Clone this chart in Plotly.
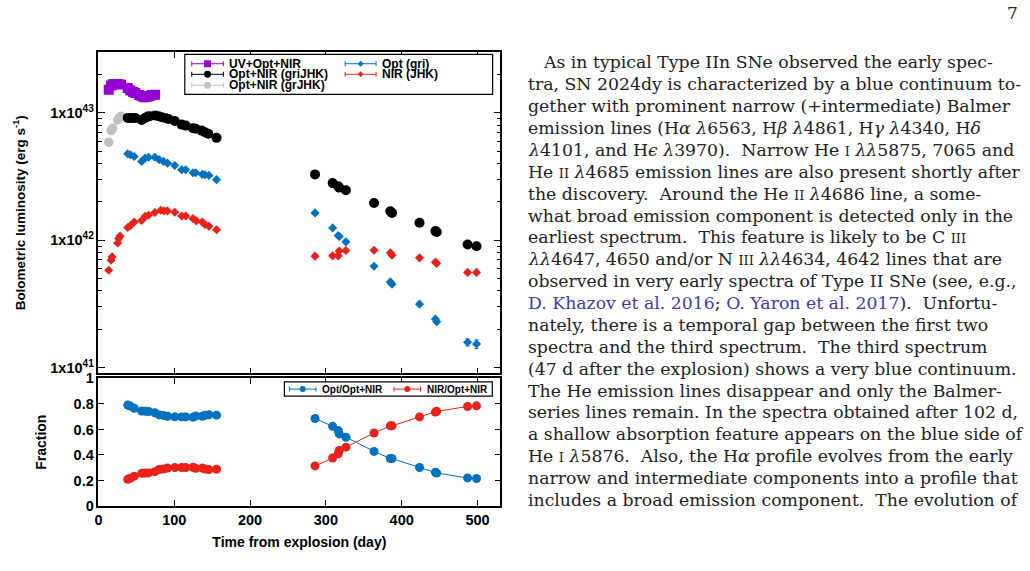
import plotly.graph_objects as go

# ---------------- data ----------------
# UV+Opt+NIR
t_uv = [13.6, 16.7, 18.9, 22.0, 25.4, 29.8, 38.6, 42.0, 45.9, 48.6, 53.8, 57.0, 60.4, 64.8, 67.8, 70.5, 74.8]
L_uv = [1.52e43, 1.64e43, 1.68e43, 1.69e43, 1.69e43, 1.67e43, 1.57e43, 1.50e43, 1.46e43, 1.43e43,
        1.38e43, 1.35e43, 1.33e43, 1.34e43, 1.36e43, 1.38e43, 1.39e43]

# Opt+NIR (grJHK)
t_gr = [13.6, 16.7, 18.9, 25.4, 27.6, 29.8]
L_gr = [5.89e42, 7.26e42, 7.57e42, 8.81e42, 9.13e42, 9.40e42]

# Opt+NIR (griJHK)
t_all = [38.6, 42.0, 45.9, 48.6, 57.0, 61.7, 64.8, 67.8, 74.8, 79.3, 83.6, 88.8, 92.4, 100.7, 109.8,
         115.1, 124.7, 128.2, 136.1, 140.5, 144.9, 155.8,
         285.7, 308.9, 316.3, 317.6, 326.4, 363.5, 385.0, 387.2, 423.5, 444.5, 446.2, 486.9, 498.7]
L_all = [9.14e42, 9.14e42, 9.14e42, 9.14e42, 8.81e42, 9.14e42, 9.36e42, 9.40e42, 9.53e42, 9.40e42,
         9.24e42, 9.08e42, 8.97e42, 8.65e42, 8.09e42, 7.95e42, 7.57e42, 7.50e42, 7.26e42, 7.05e42,
         6.85e42, 6.37e42,
         3.29e42, 2.81e42, 2.65e42, 2.59e42, 2.47e42, 1.96e42, 1.69e42, 1.64e42, 1.37e42, 1.18e42,
         1.16e42, 9.25e41, 8.97e41]

# Opt (gri)
t_opt = [38.6, 42.0, 47.2, 57.0, 61.7, 66.1, 74.4, 80.1, 85.8, 91.1, 100.7, 109.8, 115.1, 124.7,
         128.2, 137.0, 140.5, 145.7, 155.8,
         285.7, 308.9, 316.3, 317.6, 326.4, 363.5, 385.0, 387.2, 423.5, 444.5, 446.2, 486.9, 498.7]
L_opt = [4.78e42, 4.69e42, 4.55e42, 4.16e42, 4.42e42, 4.49e42, 4.49e42, 4.30e42, 4.16e42, 4.03e42,
         3.86e42, 3.58e42, 3.58e42, 3.39e42, 3.39e42, 3.29e42, 3.27e42, 3.23e42, 2.99e42,
         1.64e42, 1.25e42, 1.09e42, 1.07e42, 9.71e41, 6.25e41, 4.71e41, 4.52e41, 3.15e41, 2.41e41,
         2.29e41, 1.58e41, 1.53e41]
E_opt = [0] * 19 + [0.02e42, 0.02e42, 0.02e42, 0.02e42, 0.02e42, 0.1e41, 0.1e41, 0.1e41, 0.08e41,
                    0.08e41, 0.08e41, 0.1e41, 0.12e41]

# NIR (JHK)
t_nir = [13.6, 16.7, 18.0, 25.4, 26.8, 28.5, 38.6, 42.0, 47.2, 57.0, 61.7, 66.1, 74.4, 82.3, 86.6,
         91.1, 100.7, 109.8, 115.1, 124.7, 129.1, 137.0, 140.5, 145.7, 155.8,
         285.7, 308.9, 316.3, 317.6, 326.4, 363.5, 385.0, 387.2, 423.5, 444.5, 446.2, 486.9, 498.7]
L_nir = [5.82e41, 6.97e41, 7.40e41, 9.53e41, 1.03e42, 1.08e42, 1.26e42, 1.30e42, 1.39e42, 1.43e42,
         1.54e42, 1.57e42, 1.65e42, 1.72e42, 1.70e42, 1.70e42, 1.66e42, 1.55e42, 1.55e42, 1.48e42,
         1.42e42, 1.39e42, 1.33e42, 1.29e42, 1.21e42,
         7.50e41, 7.54e41, 7.54e41, 8.24e41, 8.30e41, 8.35e41, 7.96e41, 7.64e41, 7.27e41, 6.73e41,
         6.57e41, 5.59e41, 5.59e41]

# Fractions (bottom panel)
t_frac = [38.6, 42.0, 47.2, 57.0, 61.7, 66.1, 74.4, 80.1, 85.8, 91.1, 100.7, 109.8, 115.1, 124.7,
          128.2, 137.0, 140.5, 145.7, 155.8,
          285.7, 308.9, 316.3, 317.6, 326.4, 363.5, 385.0, 387.2, 423.5, 444.5, 446.2, 486.9, 498.7]
f_opt = [0.791, 0.783, 0.766, 0.744, 0.742, 0.741, 0.731, 0.714, 0.710, 0.703, 0.699, 0.698, 0.698,
         0.696, 0.705, 0.703, 0.711, 0.715, 0.712,
         0.686, 0.624, 0.591, 0.565, 0.539, 0.428, 0.372, 0.372, 0.302, 0.264, 0.258, 0.220, 0.215]
f_nir = [0.209, 0.217, 0.234, 0.256, 0.258, 0.259, 0.269, 0.286, 0.290, 0.297, 0.301, 0.302, 0.302,
         0.304, 0.295, 0.297, 0.289, 0.285, 0.288,
         0.314, 0.376, 0.409, 0.435, 0.461, 0.572, 0.628, 0.628, 0.698, 0.736, 0.742, 0.780, 0.785]

legend_top_labels = ["UV+Opt+NIR", "Opt+NIR (griJHK)", "Opt+NIR (grJHK)", "Opt (gri)", "NIR (JHK)"]
legend_bot_labels = ["Opt/Opt+NIR", "NIR/Opt+NIR"]

x_ticks = [0, 100, 200, 300, 400, 500]

# ---------------- styling ----------------
W, H = 1030, 571
# the photographed page shows the figure shifted by ~2.5 px right and squeezed vertically
# (7.5 px top offset, 0.973 scale); layout positions below are given in reference pixels
DX, DY, SY = 2.5, 7.5, 0.973
PURPLE = "#9400d3"
BLACK = "#000000"
GRAY = "#c0c0c0"
BLUE = "#0072bd"
RED = "#e8221a"
SANS = "Liberation Sans"


def px(x):  # reference pixel -> paper
    return (x - DX) / W


def py(y):
    return 1 - (y - DY) / SY / H


X0, X1 = 97.3, 500.7
TOP0, TOP1 = 51.7, 373.3
BOT0, BOT1 = 378.3, 506.0

fig = go.Figure()

mk = dict(line=dict(width=0))
fig.add_trace(go.Scatter(x=t_uv, y=L_uv, mode="markers", xaxis="x", yaxis="y", showlegend=False,
                         marker=dict(symbol="square", size=10, color=PURPLE, **mk)))
fig.add_trace(go.Scatter(x=t_gr, y=L_gr, mode="markers", xaxis="x", yaxis="y", showlegend=False,
                         marker=dict(symbol="circle", size=9.5, color=GRAY, **mk)))
fig.add_trace(go.Scatter(x=t_all, y=L_all, mode="markers", xaxis="x", yaxis="y", showlegend=False,
                         marker=dict(symbol="circle", size=10, color=BLACK, **mk)))
fig.add_trace(go.Scatter(x=t_opt, y=L_opt, mode="markers", xaxis="x", yaxis="y", showlegend=False,
                         error_y=dict(type="data", array=E_opt, color=BLUE, thickness=1, width=2),
                         marker=dict(symbol="diamond", size=7, color=BLUE, **mk)))
fig.add_trace(go.Scatter(x=t_nir, y=L_nir, mode="markers", xaxis="x", yaxis="y", showlegend=False,
                         marker=dict(symbol="diamond", size=7, color=RED, **mk)))

# bottom panel: connect within each epoch group
n_early = 19
for f, c in [(f_opt, BLUE), (f_nir, RED)]:
    for sl in [slice(0, n_early), slice(n_early, None)]:
        fig.add_trace(go.Scatter(x=t_frac[sl], y=f[sl], mode="lines+markers", xaxis="x2", yaxis="y2",
                                 showlegend=False, line=dict(color=c, width=1),
                                 marker=dict(symbol="circle", size=9, color=c, **mk)))

tickfont = dict(family=SANS, size=14.5, color="black", weight="bold")
axis_common = dict(showline=True, linecolor="black", linewidth=1.5, mirror="ticks", ticks="inside",
                   tickcolor="black", tickwidth=1, showgrid=False, zeroline=False)

minor_vals = [float(m) * 10.0 ** e for e in (40, 41, 42, 43) for m in range(2, 10)]

fig.update_layout(
    width=W, height=H, margin=dict(l=0, r=0, t=0, b=0),
    paper_bgcolor="white", plot_bgcolor="white", showlegend=False,
    xaxis=dict(domain=[px(X0), px(X1)], anchor="y", range=[0, 530], tickvals=x_ticks,
               showticklabels=False, ticklen=6, **axis_common),
    yaxis=dict(domain=[py(TOP1), py(TOP0)], anchor="x", type="log",
               range=[40.9542, 43.4771], tickvals=[1e41, 1e42, 1e43],
               ticktext=["1x10<sup>41</sup>", "1x10<sup>42</sup>", "1x10<sup>43</sup>"],
               tickfont=tickfont, ticklen=7,
               minor=dict(tickvals=minor_vals, ticklen=4, tickcolor="black", ticks="inside"),
               title=dict(text="Bolometric luminosity (erg s<sup>-1</sup>)",
                          font=dict(family=SANS, size=13.5, color="black", weight="bold"), standoff=22),
               **axis_common),
    xaxis2=dict(domain=[px(X0), px(X1)], anchor="y2", range=[0, 530], tickvals=x_ticks,
                tickfont=tickfont, ticklen=6,
                title=dict(text="Time from explosion (day)",
                           font=dict(family=SANS, size=14, color="black", weight="bold"), standoff=10),
                **axis_common),
    yaxis2=dict(domain=[py(BOT1), py(BOT0)], anchor="x2", range=[0, 1], dtick=0.2, tick0=0,
                tickfont=tickfont, ticklen=6,
                title=dict(text="Fraction", font=dict(family=SANS, size=14, color="black", weight="bold"),
                           standoff=24),
                **axis_common),
)

# ---------------- legends (drawn as decorations) ----------------
shapes = []
annots = []


def legend_key(x0, x1, yc, color, symbol, msize, label, fsize):
    shapes.append(dict(type="line", xref="paper", yref="paper", x0=px(x0), x1=px(x1), y0=py(yc), y1=py(yc),
                       line=dict(color=color, width=1)))
    for xe in (x0, x1):
        shapes.append(dict(type="line", xref="paper", yref="paper", x0=px(xe), x1=px(xe),
                           y0=py(yc - 2.5), y1=py(yc + 2.5), line=dict(color=color, width=1)))
    xc = (x0 + x1) / 2
    r = msize / 2
    if symbol == "square":
        shapes.append(dict(type="rect", xref="paper", yref="paper", x0=px(xc - r), x1=px(xc + r),
                           y0=py(yc + r), y1=py(yc - r), fillcolor=color, line=dict(width=0)))
    elif symbol == "circle":
        shapes.append(dict(type="circle", xref="paper", yref="paper", x0=px(xc - r), x1=px(xc + r),
                           y0=py(yc + r), y1=py(yc - r), fillcolor=color, line=dict(width=0)))
    else:
        path = "M {},{} L {},{} L {},{} L {},{} Z".format(px(xc - r), py(yc), px(xc), py(yc - r),
                                                          px(xc + r), py(yc), px(xc), py(yc + r))
        shapes.append(dict(type="path", xref="paper", yref="paper", path=path, fillcolor=color,
                           line=dict(width=0)))
    annots.append(dict(xref="paper", yref="paper", x=px(x1 + 5), y=py(yc), xanchor="left", yanchor="middle",
                       text=label, showarrow=False, borderpad=0,
                       font=dict(family=SANS, size=fsize, color="black", weight="bold")))


# top legend box
shapes.append(dict(type="rect", xref="paper", yref="paper", x0=px(184), x1=px(493), y0=py(94), y1=py(54),
                   line=dict(color="black", width=1.2), fillcolor="white", layer="above"))
top_specs = [(191, 222.7, 63.3, PURPLE, "square", 7), (191, 222.7, 73.9, BLACK, "circle", 7),
             (191, 222.7, 84.8, GRAY, "circle", 7), (345, 376, 63.3, BLUE, "diamond", 6),
             (345, 376, 73.9, RED, "diamond", 6)]
for (a, b, yc, c, s, ms), lab in zip(top_specs, legend_top_labels):
    legend_key(a, b, yc, c, s, ms, lab, 12)

# bottom legend box
shapes.append(dict(type="rect", xref="paper", yref="paper", x0=px(284), x1=px(492.7), y0=py(396), y1=py(381.7),
                   line=dict(color="black", width=1.2), fillcolor="white", layer="above"))
bot_specs = [(289, 315.7, 389, BLUE), (394, 420.7, 389, RED)]
for (a, b, yc, c), lab in zip(bot_specs, legend_bot_labels):
    legend_key(a, b, yc, c, "circle", 6, lab, 10)

# ---------------- page text on the right ----------------
SC = '<span style="font-size:13px">{}</span>'
LINK = '<span style="color:#3c3cb4">{}</span>'
para = [
    "As in typical Type IIn SNe observed the early spec-",
    "tra, SN 2024dy is characterized by a blue continuum to-",
    "gether with prominent narrow (+intermediate) Balmer",
    "emission lines (H<i>α</i> <i>λ</i>6563, H<i>β</i> <i>λ</i>4861, H<i>γ</i> <i>λ</i>4340, H<i>δ</i>",
    "<i>λ</i>4101, and H<i>ϵ</i> <i>λ</i>3970).  Narrow He " + SC.format("I") + " <i>λλ</i>5875, 7065 and",
    "He " + SC.format("II") + " <i>λ</i>4685 emission lines are also present shortly after",
    "the discovery.  Around the He " + SC.format("II") + " <i>λ</i>4686 line, a some-",
    "what broad emission component is detected only in the",
    "earliest spectrum.  This feature is likely to be C " + SC.format("III"),
    "<i>λλ</i>4647, 4650 and/or N " + SC.format("III") + " <i>λλ</i>4634, 4642 lines that are",
    "observed in very early spectra of Type II SNe (see, e.g.,",
    LINK.format("D. Khazov et al. 2016") + "; " + LINK.format("O. Yaron et al. 2017") + ").  Unfortu-",
    "nately, there is a temporal gap between the first two",
    "spectra and the third spectrum.  The third spectrum",
    "(47 d after the explosion) shows a very blue continuum.",
    "The He emission lines disappear and only the Balmer-",
    "series lines remain. In the spectra obtained after 102 d,",
    "a shallow absorption feature appears on the blue side of",
    "He " + SC.format("I") + " <i>λ</i>5876.  Also, the H<i>α</i> profile evolves from the early",
    "narrow and intermediate components into a profile that",
    "includes a broad emission component.  The evolution of",
]
SERIF = "DejaVu Serif"
for i, line in enumerate(para):
    x_start = 543 if i == 0 else 528
    annots.append(dict(xref="paper", yref="paper", x=px(x_start), y=py(62 + i * 21.9), xanchor="left",
                       yanchor="middle", text=line, showarrow=False, borderpad=0,
                       font=dict(family=SERIF, size=17.3, color="#222222")))
annots.append(dict(xref="paper", yref="paper", x=px(1021), y=py(13), xanchor="right", yanchor="middle",
                   text="7", showarrow=False, borderpad=0, font=dict(family=SERIF, size=17, color="#222222")))

fig.update_layout(shapes=shapes, annotations=annots)
fig.write_html("out.html")
